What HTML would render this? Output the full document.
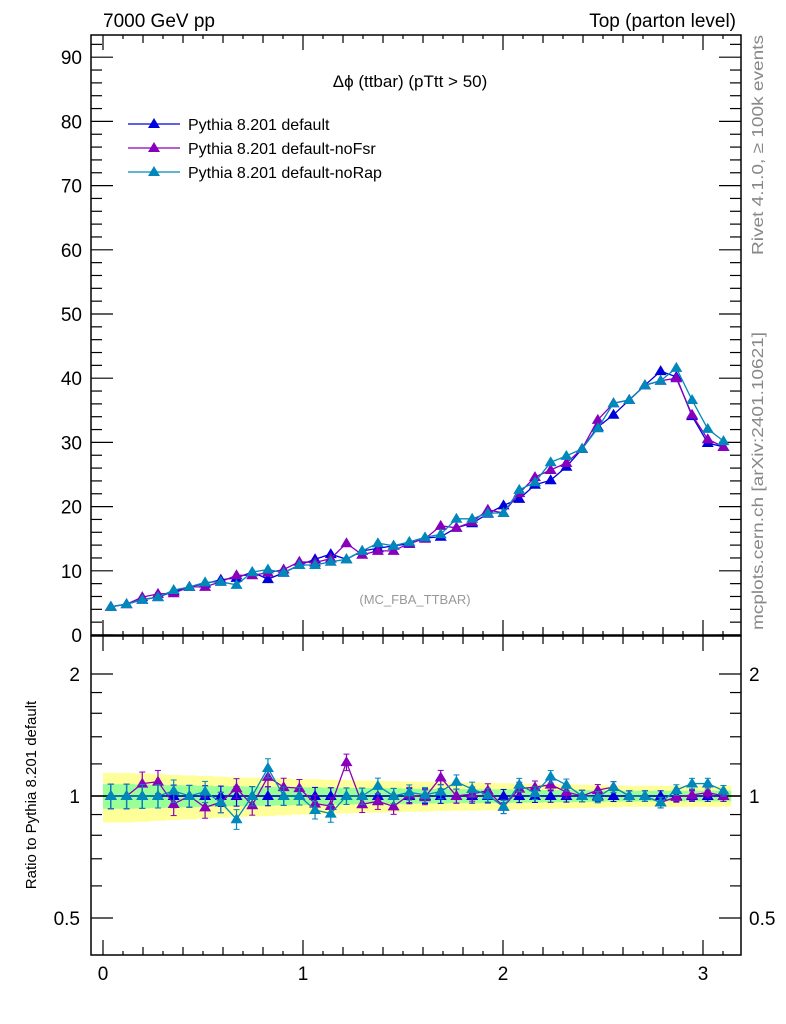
<!DOCTYPE html>
<html><head><meta charset="utf-8"><style>
html,body{margin:0;padding:0;background:#fff;}
svg{display:block;font-family:"Liberation Sans",sans-serif;}
</style></head><body>
<svg id="chart" width="786" height="1024" xmlns="http://www.w3.org/2000/svg">
<text x="103" y="27" font-size="19">7000 GeV pp</text>
<text x="736" y="27" font-size="19" text-anchor="end">Top (parton level)</text>
<text x="410" y="87" font-size="17" text-anchor="middle">Δϕ (ttbar) (pTtt &gt; 50)</text>
<text x="415" y="604" font-size="13" fill="#999" text-anchor="middle">(MC_FBA_TTBAR)</text>
<text transform="translate(763,255) rotate(-90)" font-size="16" fill="#888" textLength="220" lengthAdjust="spacingAndGlyphs">Rivet 4.1.0, ≥ 100k events</text>
<text transform="translate(763,630) rotate(-90)" font-size="16" fill="#888" textLength="298" lengthAdjust="spacingAndGlyphs">mcplots.cern.ch [arXiv:2401.10621]</text>
<text transform="translate(36,795) rotate(-90)" font-size="15" text-anchor="middle">Ratio to Pythia 8.201 default</text>
<g id="bands"></g><g id="axes"></g><g id="series"></g><g id="legend"></g>
</svg>
<script>
const binCount = 40;
const xTickLabels = ["0","1","2","3"];
const yTickLabels = ["0","10","20","30","40","50","60","70","80","90"];
const seriesNames = ["Pythia 8.201 default","Pythia 8.201 default-noFsr","Pythia 8.201 default-noRap"];
const valsDefault = [4.4,4.8,5.5,5.9,6.8,7.5,8.0,8.6,8.9,9.8,8.7,9.7,10.9,11.8,12.6,11.8,13.1,13.5,13.9,14.2,15.1,15.3,16.7,17.4,18.9,20.2,21.2,23.4,24.1,26.2,29.0,32.4,34.3,36.6,38.9,41.1,40.2,34.1,29.9,29.3];
const valsNoFsr = [4.4,4.8,5.9,6.4,6.5,7.5,7.5,8.3,9.3,9.3,9.7,10.2,11.4,11.3,11.9,14.3,12.5,13.1,13.1,14.3,15.0,17.0,16.7,17.6,19.5,19.0,22.1,24.6,25.7,26.8,29.0,33.5,36.1,36.6,38.9,39.6,40.0,34.3,30.5,29.3];
const valsNoRap = [4.4,4.8,5.5,5.9,7.0,7.5,8.2,8.3,7.8,9.8,10.2,9.7,10.9,10.9,11.4,11.8,13.1,14.3,13.9,14.5,15.2,15.7,18.1,18.1,19.0,19.0,22.6,23.8,26.9,27.9,29.0,32.2,36.1,36.6,38.9,39.6,41.6,36.6,32.1,30.2];
const relErr = [0.07,0.07,0.068,0.066,0.064,0.062,0.06,0.058,0.056,0.055,0.054,0.052,0.05,0.05,0.048,0.047,0.046,0.045,0.044,0.043,0.042,0.041,0.04,0.04,0.039,0.038,0.037,0.036,0.035,0.034,0.033,0.032,0.031,0.03,0.03,0.03,0.03,0.03,0.03,0.03];
const NS="http://www.w3.org/2000/svg";
const L=91,R=741,MT=35,MB=635,RT=636,RB=955;
const xs=v=>103+200*v;
const ym=v=>635-6.42*v;
const yr=r=>796-122*Math.log2(r);
const binW=Math.PI/binCount;
const colors=["#0000dd","#8800bb","#0088bb"];
const allSeries=[valsDefault,valsNoFsr,valsNoRap];
function mk(tag,attrs,parent){const e=document.createElementNS(NS,tag);for(const k in attrs)e.setAttribute(k,attrs[k]);parent.appendChild(e);return e;}
const axes=document.getElementById('axes'),bands=document.getElementById('bands'),ser=document.getElementById('series'),leg=document.getElementById('legend');
let yPts=[],gPts=[],yLow=[],gLow=[];
for(let i=0;i<binCount;i++){const x0=xs(i*binW),x1=xs((i+1)*binW),e=relErr[i];
yPts.push(x0+','+yr(1+2*e),x1+','+yr(1+2*e));yLow.unshift(x1+','+yr(1-2*e),x0+','+yr(1-2*e));
gPts.push(x0+','+yr(1+e),x1+','+yr(1+e));gLow.unshift(x1+','+yr(1-e),x0+','+yr(1-e));}
let b1=mk('polygon',{points:yPts.concat(yLow).join(' '),fill:'#ffff99'},bands);


let b2=mk('polygon',{points:gPts.concat(gLow).join(' '),fill:'#99ff99'},bands);


let ref=mk('line',{x1:L,x2:R,y1:yr(1),y2:yr(1),stroke:'#000','stroke-width':1.5},bands);


const st={stroke:'#000','stroke-width':1.5,fill:'none'};
let f1=mk('rect',Object.assign({x:L,y:MT,width:R-L,height:MB-MT},st),axes);


let f2=mk('rect',Object.assign({x:L,y:RT,width:R-L,height:RB-RT},st),axes);


function tick(x1,y1,x2,y2){mk('line',{x1,y1,x2,y2,stroke:'#000','stroke-width':1.2},axes);}
for(let k=0;k<=31;k++){const v=k/10,x=xs(v);if(x>R)break;const len=k%10==0?15:(k%2==0?8:4);
tick(x,MB,x,MB-len);tick(x,MT,x,MT+len);tick(x,RB,x,RB-len);tick(x,RT,x,RT+len);}
xTickLabels.forEach((t,i)=>{const e=mk('text',{x:xs(+t),y:980,'font-size':19,'text-anchor':'middle'},axes);e.textContent=t;

});
for(let v=0;v<=92;v+=2){const y=ym(v),len=v%10==0?22:11;tick(L,y,L+len,y);tick(R,y,R-len,y);}
yTickLabels.forEach(t=>{const e=mk('text',{x:82,y:ym(+t)+7,'font-size':19,'text-anchor':'end'},axes);e.textContent=t;

});
[0.5,0.6,0.7,0.8,0.9,1,2].forEach(v=>{const y=yr(v),len=(v==0.5||v==1||v==2)?22:11;tick(L,y,L+len,y);tick(R,y,R-len,y);});
[1.2,1.4,1.6,1.8].forEach(v=>{const y=yr(v);tick(L,y,L+11,y);tick(R,y,R-11,y);});
[["0.5",0.5],["1",1],["2",2]].forEach(([t,v])=>{
const a=mk('text',{x:80,y:yr(v)+7,'font-size':19,'text-anchor':'end'},axes);a.textContent=t;


const b=mk('text',{x:749,y:yr(v)+7,'font-size':19},axes);b.textContent=t;

});
function tri(x,y,c,g){mk('polygon',{points:`${x},${y-6} ${x-6},${y+4} ${x+6},${y+4}`,fill:c},g);}
allSeries.forEach((vals,s)=>{
const g=mk('g',{},ser);


const c=colors[s];let pm=[],pr=[];
vals.forEach((v,i)=>{const x=xs((i+0.5)*binW);const r=v/valsDefault[i];pm.push(x+','+ym(v));pr.push(x+','+yr(r));
const e=v*relErr[i]*0.4;
mk('line',{x1:x,x2:x,y1:ym(v-e),y2:ym(v+e),stroke:c,'stroke-width':1.2},g);
mk('line',{x1:x,x2:x,y1:yr(r*(1-relErr[i])),y2:yr(r*(1+relErr[i])),stroke:c,'stroke-width':1.2},g);
mk('line',{x1:x-3,x2:x+3,y1:yr(r*(1-relErr[i])),y2:yr(r*(1-relErr[i])),stroke:c},g);
mk('line',{x1:x-3,x2:x+3,y1:yr(r*(1+relErr[i])),y2:yr(r*(1+relErr[i])),stroke:c},g);});
mk('polyline',{points:pm.join(' '),fill:'none',stroke:c,'stroke-width':1.3},g);
mk('polyline',{points:pr.join(' '),fill:'none',stroke:c,'stroke-width':1.3},g);
vals.forEach((v,i)=>{const x=xs((i+0.5)*binW);tri(x,ym(v),c,g);tri(x,yr(v/valsDefault[i]),c,g);});
const ly=124+24*s;const lg=mk('g',{},leg);


mk('line',{x1:128,x2:180,y1:ly,y2:ly,stroke:c,'stroke-width':1.3},lg);
tri(154,ly,c,lg);
const t=mk('text',{x:188,y:ly+6,'font-size':16},lg);t.textContent=seriesNames[s];
});
</script>
</body></html>
